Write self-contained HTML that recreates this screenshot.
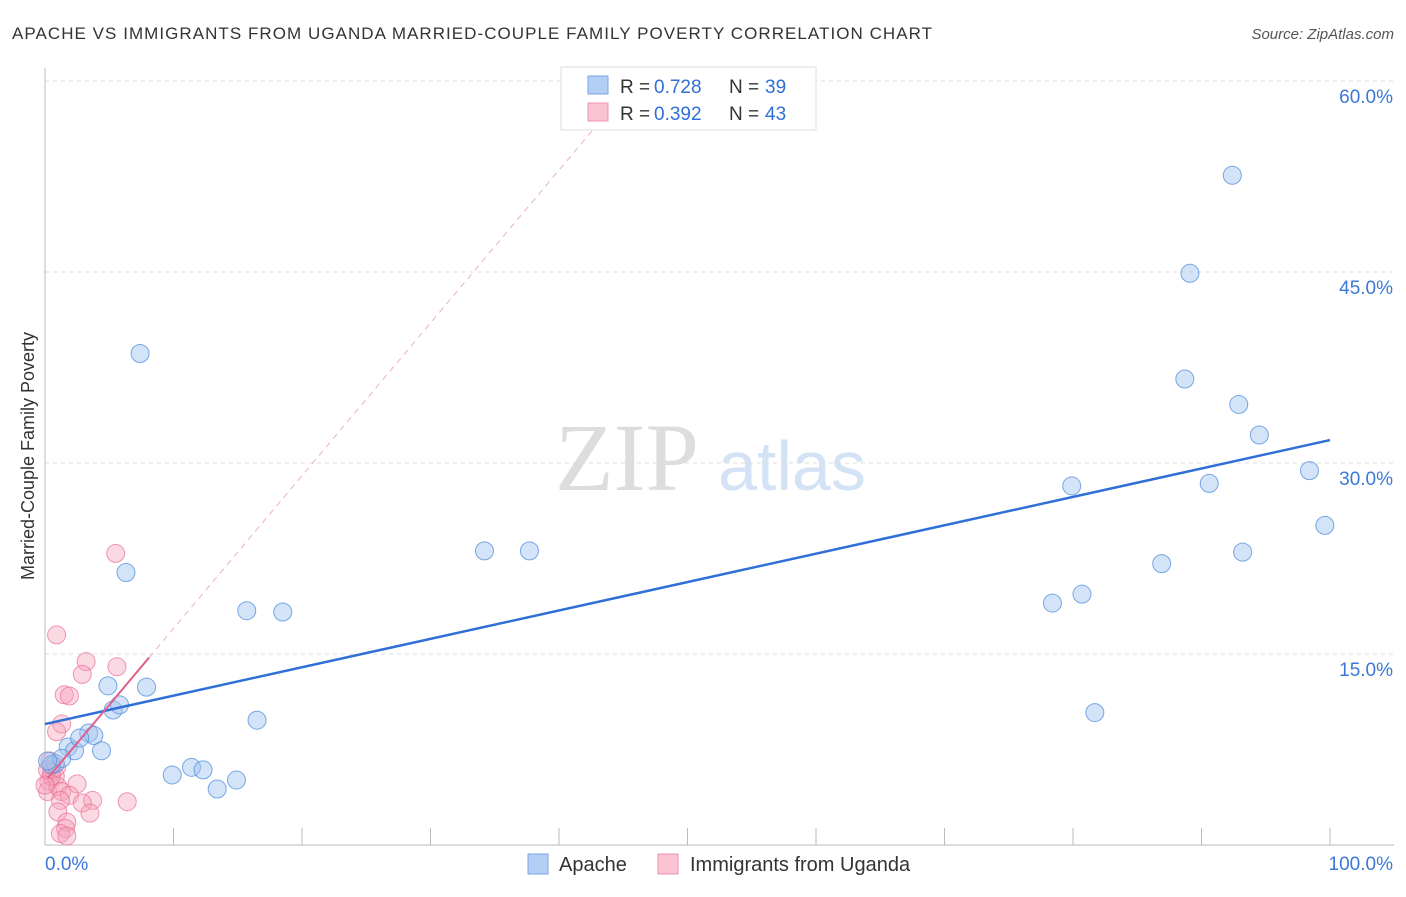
<!DOCTYPE html>
<html><head><meta charset="utf-8"><style>
body{margin:0;background:#fff;font-family:"Liberation Sans",sans-serif;}
</style></head><body>
<svg width="1406" height="892" xmlns="http://www.w3.org/2000/svg">
<text x="12" y="39" font-size="17" fill="#333" textLength="920" lengthAdjust="spacing">APACHE VS IMMIGRANTS FROM UGANDA MARRIED-COUPLE FAMILY POVERTY CORRELATION CHART</text>
<text x="1394" y="39" font-size="15" fill="#555" font-style="italic" text-anchor="end">Source: ZipAtlas.com</text>
<text x="34" y="456" font-size="18" fill="#333" text-anchor="middle" transform="rotate(-90 34 456)">Married-Couple Family Poverty</text>
<text x="555" y="490" font-size="96" fill="#ddd" font-family="Liberation Serif,serif">ZIP</text>
<text x="718" y="490" font-size="70" fill="#d3e2f5">atlas</text>
<g id="grid"></g><g id="pts"></g><g id="lines"></g>
<g>
<rect x="561" y="67" width="255" height="63" fill="#fff" stroke="#ddd"/>
<rect x="588" y="76" width="20" height="18" fill="#b3cff5" stroke="#7aa6e0"/>
<rect x="588" y="103" width="20" height="18" fill="#f9c3d3" stroke="#ee93ae"/>
<text x="620" y="93" font-size="19" fill="#333">R =</text>
<text x="654" y="93" font-size="19" fill="#2f6fd6">0.728</text>
<text x="729" y="93" font-size="19" fill="#333">N =</text>
<text x="765" y="93" font-size="19" fill="#2f6fd6">39</text>
<text x="620" y="120" font-size="19" fill="#333">R =</text>
<text x="654" y="120" font-size="19" fill="#2f6fd6">0.392</text>
<text x="729" y="120" font-size="19" fill="#333">N =</text>
<text x="765" y="120" font-size="19" fill="#2f6fd6">43</text>
</g>
<g>
<rect x="528" y="854" width="20" height="20" fill="#b3cff5" stroke="#7aa6e0"/>
<text x="559" y="871" font-size="20" fill="#333">Apache</text>
<rect x="658" y="854" width="20" height="20" fill="#f9c3d3" stroke="#ee93ae"/>
<text x="690" y="871" font-size="20" fill="#333">Immigrants from Uganda</text>
</g>
<text x="45" y="870" font-size="19" fill="#3b78d8">0.0%</text>
<text x="1393" y="870" font-size="19" fill="#3b78d8" text-anchor="end">100.0%</text>
</svg>
<script>
const yTicks=[15,30,45,60];
const yTickLabels=["15.0%","30.0%","45.0%","60.0%"];
const apacheX=[7.4,6.3,4.9,7.9,5.3,5.8,3.4,3.8,1.8,2.3,4.4,2.7,0.8,0.5,1.3,0.2,9.9,11.4,12.3,13.4,14.9,16.5,15.7,18.5,34.2,37.7,78.4,80.7,81.7,86.9,79.9,88.7,89.1,92.4,92.9,94.5,90.6,93.2,98.4,99.6];
const apacheY=[38.6,21.4,12.5,12.4,10.6,11.0,8.8,8.6,7.7,7.4,7.4,8.4,6.4,6.3,6.8,6.6,5.5,6.1,5.9,4.4,5.1,9.8,18.4,18.3,23.1,23.1,19.0,19.7,10.4,22.1,28.2,36.6,44.9,52.6,34.6,32.2,28.4,23.0,29.4,25.1];
const ugandaX=[5.5,0.9,3.2,5.6,2.9,1.5,1.9,1.3,0.9,0.4,0.5,0.3,0.8,0.2,1.0,1.3,2.5,1.9,1.2,3.7,6.4,2.9,1.0,3.5,1.7,1.6,1.2,1.7,0.5,0.2,0.0,0.9];
const ugandaY=[22.9,16.5,14.4,14.0,13.4,11.8,11.7,9.5,8.9,6.6,5.7,5.0,5.4,4.2,4.6,4.2,4.8,3.9,3.5,3.5,3.4,3.3,2.6,2.5,1.8,1.3,0.9,0.7,5.4,5.9,4.7,6.1];
const apacheFit=[9.5,31.8];
const ugandaFit=[5.0,1.2];
const NS="http://www.w3.org/2000/svg";
const X=v=>45+v*12.85, Y=v=>845-v*12.733;
function mk(t,a,p){const e=document.createElementNS(NS,t);for(const k in a)e.setAttribute(k,a[k]);p.appendChild(e);return e;}
const grid=document.getElementById('grid');
yTicks.forEach((t,i)=>{
 const l=mk('line',{x1:45,x2:1394,y1:Y(t),y2:Y(t),stroke:'#ddd','stroke-dasharray':'4,4'},grid);
 
 
 const tx=mk('text',{x:1393,y:Y(t)+22,'font-size':19,fill:'#3b78d8','text-anchor':'end'},grid);
 tx.textContent=yTickLabels[i];
 
 
});
const ax=mk('line',{x1:45,x2:45,y1:68,y2:845,stroke:'#bbb'},grid);


const bx=mk('line',{x1:45,x2:1394,y1:845,y2:845,stroke:'#bbb'},grid);


for(let i=1;i<=10;i++){const t=mk('line',{x1:X(i*10),x2:X(i*10),y1:828,y2:845,stroke:'#bbb'},grid);
 
 }
const pts=document.getElementById('pts');
ugandaX.forEach((x,i)=>{const c=mk('circle',{cx:X(x),cy:Y(ugandaY[i]),r:9,fill:'rgba(244,160,185,0.4)',stroke:'rgba(232,110,148,0.7)','stroke-width':1},pts);
 
 });
apacheX.forEach((x,i)=>{const c=mk('circle',{cx:X(x),cy:Y(apacheY[i]),r:9,fill:'rgba(160,196,240,0.45)',stroke:'rgba(80,140,220,0.75)','stroke-width':1},pts);
 
 });
const lg=document.getElementById('lines');
const a=mk('line',{x1:X(0),y1:Y(apacheFit[0]),x2:X(100),y2:Y(apacheFit[1]),stroke:'#2f6fd6','stroke-width':2.5},lg);


const ue=x=>ugandaFit[0]+ugandaFit[1]*x;
const ud=mk('line',{x1:X(8.1),y1:Y(ue(8.1)),x2:X(43),y2:Y(ue(43)),stroke:'#eab0c0','stroke-width':1,'stroke-dasharray':'6,5'},lg);


const us=mk('line',{x1:X(0.2),y1:Y(ue(0.2)),x2:X(8.1),y2:Y(ue(8.1)),stroke:'#e0608a','stroke-width':2},lg);


</script>
</body></html>
